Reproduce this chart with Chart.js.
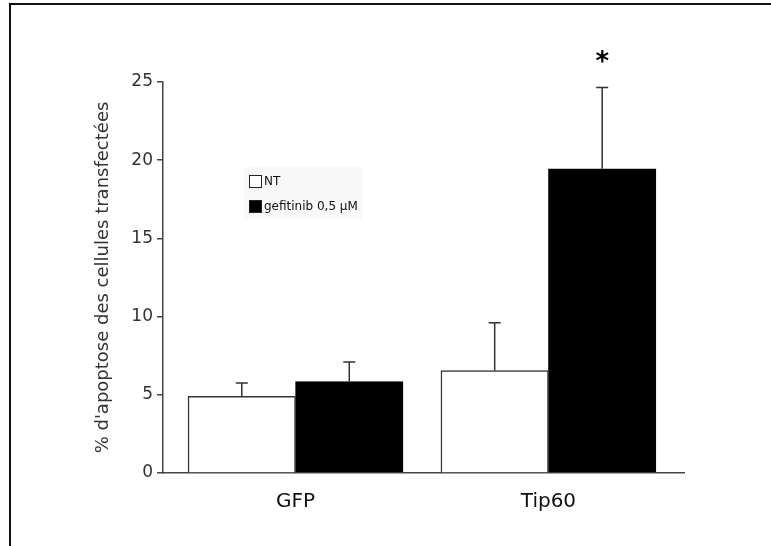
<!DOCTYPE html>
<html><head><meta charset="utf-8">
<script src="https://cdn.jsdelivr.net/npm/chart.js@4"></script>
<style>
html,body{margin:0;padding:0;background:#fff;}
#wrap{position:relative;width:771px;height:546px;overflow:hidden;}
#frame{position:absolute;left:9px;top:3px;right:-10px;bottom:-10px;border-top:2px solid #111;border-left:2px solid #111;pointer-events:none;}
canvas{position:absolute;left:0;top:0;}
</style></head><body>
<div id="wrap"><canvas id="c" width="771" height="546"></canvas><div id="frame"></div></div>
<script>
const categories = ['GFP', 'Tip60'];
const seriesNames = ['NT', 'gefitinib 0,5 µM'];
const ntValues = [4.9, 6.55];
const ntErrors = [0.85, 3.05];
const gefValues = [5.85, 19.45];
const gefErrors = [1.25, 5.2];
const gefSignificance = ['', '*'];
const yTicks = [0, 5, 10, 15, 20, 25];
const yTitle = "% d'apoptose des cellules transfectées";

const FONT = "'DejaVu Sans', Verdana, sans-serif";

const toPoints = vals => vals.map((v, i) => ({x: i, y: v}));

const errorBars = {
  id: 'errorBars',
  afterDatasetsDraw(chart) {
    const ctx = chart.ctx, y = chart.scales.y;
    ctx.save();
    ctx.strokeStyle = '#333';
    ctx.lineWidth = 1.5;
    chart.data.datasets.forEach((ds, di) => {
      const meta = chart.getDatasetMeta(di);
      meta.data.forEach((bar, i) => {
        const v = ds.data[i].y, e = ds.errors[i];
        const yTop = y.getPixelForValue(v + e);
        ctx.beginPath();
        ctx.moveTo(bar.x, bar.y);
        ctx.lineTo(bar.x, yTop);
        ctx.moveTo(bar.x - 6, yTop);
        ctx.lineTo(bar.x + 6, yTop);
        ctx.stroke();
        if (ds.marks && ds.marks[i]) {
          ctx.fillStyle = '#000';
          ctx.font = 'bold 26px ' + FONT;
          ctx.textAlign = 'center';
          ctx.textBaseline = 'alphabetic';
          ctx.fillText(ds.marks[i], bar.x, yTop - 17);
        }
      });
    });
    ctx.restore();
  }
};

const boxLegend = {
  id: 'boxLegend',
  afterDraw(chart) {
    const ctx = chart.ctx;
    ctx.save();
    ctx.fillStyle = '#f8f8f8';
    ctx.fillRect(244, 167, 118, 52);
    ctx.font = '12px ' + FONT;
    ctx.textBaseline = 'middle';
    ctx.textAlign = 'left';
    chart.data.datasets.forEach((ds, i) => {
      const cy = 181 + i * 25;
      ctx.fillStyle = ds.backgroundColor;
      ctx.fillRect(249, cy - 6, 13, 13);
      ctx.strokeStyle = '#222';
      ctx.lineWidth = 1;
      ctx.strokeRect(249.5, cy - 5.5, 12, 12);
      ctx.fillStyle = '#111';
      ctx.fillText(ds.label, 264, cy + 1);
    });
    ctx.restore();
  }
};

new Chart(document.getElementById('c'), {
  type: 'bar',
  data: {
    datasets: [
      {label: seriesNames[0], data: toPoints(ntValues), errors: ntErrors,
       backgroundColor: '#ffffff', borderColor: '#333', borderWidth: 1.5, barThickness: 107.5},
      {label: seriesNames[1], data: toPoints(gefValues), errors: gefErrors, marks: gefSignificance,
       backgroundColor: '#000000', borderColor: '#000', borderWidth: 1.5, barThickness: 107.5}
    ]
  },
  options: {
    responsive: false,
    animation: false,
    devicePixelRatio: 1,
    layout: {padding: {top: 82, right: 87, left: 0, bottom: 0}},
    plugins: {legend: {display: false}, tooltip: {enabled: false}},
    scales: {
      x: {
        type: 'linear',
        offset: false,
        min: -0.524, max: 1.536,
        afterFit(s) { s.height = 73; },
        afterBuildTicks(s) { s.ticks = [{value: -0.524}, ...categories.map((c, i) => ({value: i})), {value: 1.536}]; },
        grid: {display: false, drawTicks: false},
        border: {display: true, color: '#444', width: 1.5},
        ticks: {
          autoSkip: false, maxRotation: 0, padding: 17,
          color: '#111', font: {family: FONT, size: 20},
          callback: v => (Number.isInteger(v) && categories[v] !== undefined) ? categories[v] : ''
        }
      },
      y: {
        min: 0, max: 25,
        afterFit(s) { s.width = 163; },
        afterBuildTicks(s) { s.ticks = yTicks.map(v => ({value: v})); },
        grid: {drawOnChartArea: false, drawTicks: true, tickLength: 6, color: '#444', lineWidth: 1.5},
        border: {display: true, color: '#444', width: 1.5},
        ticks: {padding: 4, color: '#333', font: {family: FONT, size: 17}},
        title: {display: true, text: yTitle, color: '#333', font: {family: FONT, size: 18}, padding: {top: 93, bottom: 0}}
      }
    }
  },
  plugins: [errorBars, boxLegend]
});
</script>
</body></html>
